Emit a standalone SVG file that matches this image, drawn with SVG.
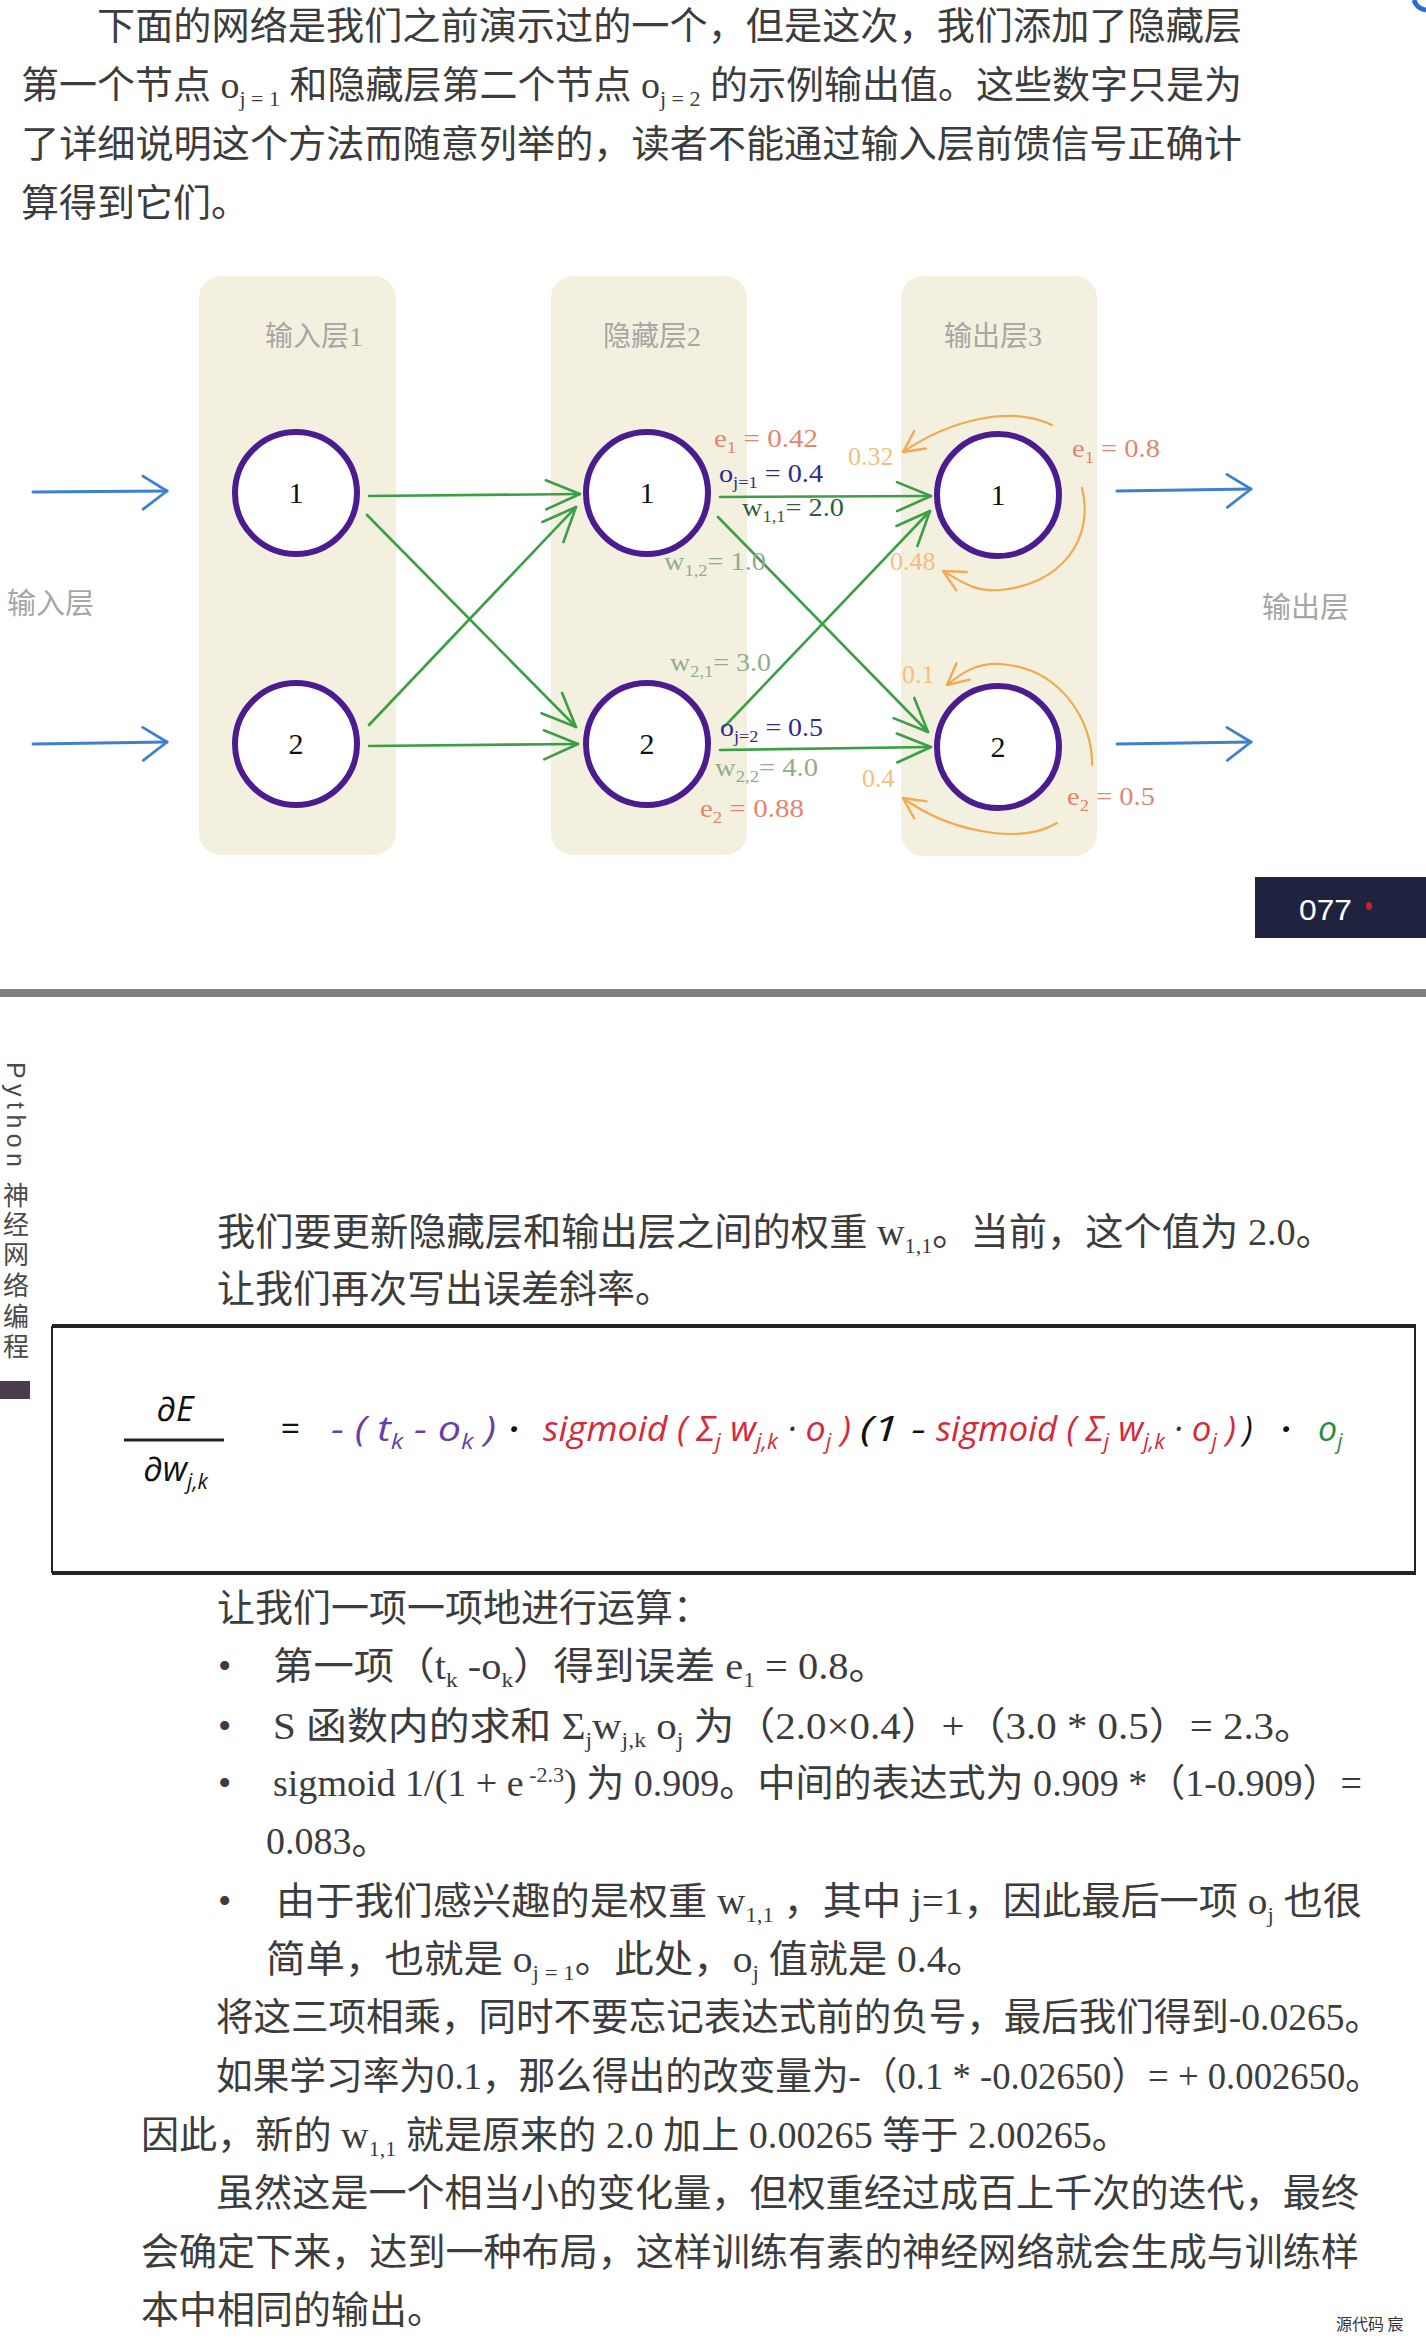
<svg xmlns="http://www.w3.org/2000/svg" width="1426" height="2341" viewBox="0 0 1426 2341">
<style>
.body{font-family:"Liberation Serif","Noto Sans CJK SC",serif;font-size:38px;fill:#3c3c3c}
.sub{font-size:22px}
.col{fill:#f3f0df}
.colt{font-family:"Liberation Serif","Noto Sans CJK SC",serif;font-size:28px;fill:#a6a6a6}
.node circle{fill:#ffffff;stroke:#4b1c8f;stroke-width:6}
.node text{font-family:"Liberation Serif",serif;font-size:30px;fill:#111;text-anchor:middle}
.lbl{font-family:"Liberation Serif",serif;font-size:26px}
.ls{font-size:17px}
.green{fill:none;stroke:#3a9f45;stroke-width:2.6;stroke-linecap:round}
.blue{fill:none;stroke:#3f7fd0;stroke-width:3;stroke-linecap:round}
.orange{fill:none;stroke:#f2aa50;stroke-width:2.2;stroke-linecap:round}
.fm{font-family:"Open Sans","DejaVu Sans",sans-serif;font-style:italic;font-size:34px}
.fs{font-size:21px}
</style>
<defs>
<marker id="ag" markerUnits="userSpaceOnUse" orient="auto" refX="0" refY="0" markerWidth="1" markerHeight="1" style="overflow:visible"><path d="M-34,-14 L0,0 L-34,15" fill="none" stroke="#3a9f45" stroke-width="2.6" stroke-linecap="round" stroke-linejoin="round"/></marker>
<marker id="ab" markerUnits="userSpaceOnUse" orient="auto" refX="0" refY="0" markerWidth="1" markerHeight="1" style="overflow:visible"><path d="M-24,-15 L0,0 L-24,18" fill="none" stroke="#3f7fd0" stroke-width="2.8" stroke-linecap="round" stroke-linejoin="round"/></marker>
<marker id="ao" markerUnits="userSpaceOnUse" orient="auto" refX="0" refY="0" markerWidth="1" markerHeight="1" style="overflow:visible"><path d="M-21,-10 L0,0 L-21,11" fill="none" stroke="#f2aa50" stroke-width="2.4" stroke-linecap="round" stroke-linejoin="round"/></marker>
</defs>
<rect x="0" y="0" width="1426" height="2341" fill="#ffffff"/>
<path d="M1426,10 A14,14 0 0 1 1414,0" fill="none" stroke="#2a6ad8" stroke-width="5"/>

<!-- top paragraph -->
<g id="top-text">
<text class="body" x="97" y="39" textLength="1145" lengthAdjust="spacingAndGlyphs">下面的网络是我们之前演示过的一个，但是这次，我们添加了隐藏层</text>
<text class="body" x="21" y="98" textLength="1221" lengthAdjust="spacingAndGlyphs">第一个节点 o<tspan class="sub" dy="8">j = 1</tspan><tspan dy="-8"> 和隐藏层第二个节点 o</tspan><tspan class="sub" dy="8">j = 2</tspan><tspan dy="-8"> 的示例输出值。这些数字只是为</tspan></text>
<text class="body" x="21" y="157" textLength="1221" lengthAdjust="spacingAndGlyphs">了详细说明这个方法而随意列举的，读者不能通过输入层前馈信号正确计</text>
<text class="body" x="21" y="216">算得到它们。</text>
</g>

<!-- columns -->
<g id="layer-input">
<rect class="col" x="199" y="276" width="197" height="579" rx="22"/>
<text class="colt" x="314" y="346" text-anchor="middle">输入层1</text>
</g>
<g id="layer-hidden">
<rect class="col" x="551" y="276" width="196" height="579" rx="22"/>
<text class="colt" x="652" y="346" text-anchor="middle">隐藏层2</text>
</g>
<g id="layer-output">
<rect class="col" x="901" y="276" width="196" height="580" rx="22"/>
<text class="colt" x="993" y="346" text-anchor="middle">输出层3</text>
</g>
<text id="label-input" class="colt" x="7" y="614" style="font-size:29px">输入层</text>
<text id="label-output" class="colt" x="1262" y="618" style="font-size:29px">输出层</text>

<!-- connectors -->
<g id="connectors">
<path class="blue" d="M33,492 L167,491" marker-end="url(#ab)"/>
<path class="blue" d="M33,744 L167,742" marker-end="url(#ab)"/>
<path class="blue" d="M1117,491 L1251,489" marker-end="url(#ab)"/>
<path class="blue" d="M1117,744 L1251,742" marker-end="url(#ab)"/>
<path class="green" d="M369,496 L580,494" marker-end="url(#ag)"/>
<path class="green" d="M367,515 L576,727" marker-end="url(#ag)"/>
<path class="green" d="M369,725 L576,507" marker-end="url(#ag)"/>
<path class="green" d="M369,746 L578,744" marker-end="url(#ag)"/>
<path class="green" d="M720,497 L931,496" marker-end="url(#ag)"/>
<path class="green" d="M718,517 L928,732" marker-end="url(#ag)"/>
<path class="green" d="M725,726 L930,511" marker-end="url(#ag)"/>
<path class="green" d="M720,750 L931,747" marker-end="url(#ag)"/>
<path class="orange" d="M1052,425 C1010,405 950,420 903,452" marker-end="url(#ao)"/>
<path class="orange" d="M1082,488 C1095,540 1060,585 1000,590 C975,592 962,582 943,571" marker-end="url(#ao)"/>
<path class="orange" d="M1092,765 C1093,720 1060,668 1000,664 C975,663 962,673 947,685" marker-end="url(#ao)"/>
<path class="orange" d="M1057,823 C1020,845 950,832 903,798" marker-end="url(#ao)"/>
</g>

<!-- nodes -->
<g id="node-in1" class="node"><circle cx="296" cy="493" r="61"/><text x="296" y="503">1</text></g>
<g id="node-in2" class="node"><circle cx="296" cy="744" r="61"/><text x="296" y="754">2</text></g>
<g id="node-h1" class="node"><circle cx="647" cy="493" r="61"/><text x="647" y="503">1</text></g>
<g id="node-h2" class="node"><circle cx="647" cy="744" r="61"/><text x="647" y="754">2</text></g>
<g id="node-o1" class="node"><circle cx="998" cy="495" r="61"/><text x="998" y="505">1</text></g>
<g id="node-o2" class="node"><circle cx="998" cy="747" r="61"/><text x="998" y="757">2</text></g>

<!-- diagram labels -->
<g id="labels">
<text class="lbl" x="714" y="447" fill="#e2866e" textLength="104" lengthAdjust="spacingAndGlyphs">e<tspan class="ls" dy="6">1</tspan><tspan dy="-6"> = 0.42</tspan></text>
<text class="lbl" x="719" y="482" fill="#2f2a8e" textLength="104" lengthAdjust="spacingAndGlyphs">o<tspan class="ls" dy="6">j=1</tspan><tspan dy="-6"> = 0.4</tspan></text>
<text class="lbl" x="742" y="516" fill="#2f5e36" textLength="102" lengthAdjust="spacingAndGlyphs">w<tspan class="ls" dy="6">1,1</tspan><tspan dy="-6">= 2.0</tspan></text>
<text class="lbl" x="664" y="570" fill="#8fae8c" textLength="102" lengthAdjust="spacingAndGlyphs">w<tspan class="ls" dy="6">1,2</tspan><tspan dy="-6">= 1.0</tspan></text>
<text class="lbl" x="670" y="671" fill="#8fae8c" textLength="101" lengthAdjust="spacingAndGlyphs">w<tspan class="ls" dy="6">2,1</tspan><tspan dy="-6">= 3.0</tspan></text>
<text class="lbl" x="720" y="736" fill="#2f2a8e" textLength="103" lengthAdjust="spacingAndGlyphs">o<tspan class="ls" dy="6">j=2</tspan><tspan dy="-6"> = 0.5</tspan></text>
<text class="lbl" x="715" y="776" fill="#8fae8c" textLength="103" lengthAdjust="spacingAndGlyphs">w<tspan class="ls" dy="6">2,2</tspan><tspan dy="-6">= 4.0</tspan></text>
<text class="lbl" x="700" y="817" fill="#e2866e" textLength="104" lengthAdjust="spacingAndGlyphs">e<tspan class="ls" dy="6">2</tspan><tspan dy="-6"> = 0.88</tspan></text>
<text class="lbl" x="848" y="465" fill="#f5be80">0.32</text>
<text class="lbl" x="890" y="570" fill="#f5be80">0.48</text>
<text class="lbl" x="902" y="683" fill="#f5be80">0.1</text>
<text class="lbl" x="862" y="787" fill="#f5be80">0.4</text>
<text class="lbl" x="1072" y="457" fill="#e2866e" textLength="88" lengthAdjust="spacingAndGlyphs">e<tspan class="ls" dy="6">1</tspan><tspan dy="-6"> = 0.8</tspan></text>
<text class="lbl" x="1067" y="805" fill="#e2866e" textLength="88" lengthAdjust="spacingAndGlyphs">e<tspan class="ls" dy="6">2</tspan><tspan dy="-6"> = 0.5</tspan></text>
</g>

<!-- page number -->
<g id="page-number">
<rect x="1255" y="877" width="171" height="61" fill="#1f2340"/>
<text x="1299" y="920" font-family="Liberation Sans, sans-serif" font-size="30" fill="#ffffff" textLength="53" lengthAdjust="spacingAndGlyphs">077</text>
<ellipse cx="1369" cy="906" rx="3" ry="4" fill="#c8242c"/>
</g>
<rect x="0" y="989" width="1426" height="8" fill="#808080"/>

<!-- side spine -->
<g id="spine" font-family="Liberation Sans, 'Noto Sans CJK SC', sans-serif" fill="#4a4a4a">
<text x="0" y="0" transform="translate(7,1062) rotate(90)" font-size="25" textLength="105" lengthAdjust="spacing">Python</text>
<g font-size="26" text-anchor="middle">
<text x="16" y="1205">神</text>
<text x="16" y="1234">经</text>
<text x="16" y="1264">网</text>
<text x="16" y="1295">络</text>
<text x="16" y="1326">编</text>
<text x="16" y="1356">程</text>
</g>
<rect x="0" y="1381" width="30" height="18" fill="#4a3c4e"/>
</g>

<!-- lower paragraph -->
<g id="text-intro">
<text class="body" x="217" y="1245" textLength="1117" lengthAdjust="spacingAndGlyphs">我们要更新隐藏层和输出层之间的权重 w<tspan class="sub" dy="8">1,1</tspan><tspan dy="-8">。当前，这个值为 2.0。</tspan></text>
<text class="body" x="217" y="1302">让我们再次写出误差斜率。</text>
</g>

<!-- formula box -->
<g id="formula">
<path d="M52,1326 L1416,1326 M52,1573 L1416,1573" stroke="#222" stroke-width="4" fill="none"/>
<path d="M52,1326 L52,1573 M1415,1326 L1415,1573" stroke="#222" stroke-width="2" fill="none"/>
<text class="fm" x="175" y="1421" text-anchor="middle" fill="#111">∂E</text>
<line x1="124" y1="1440" x2="224" y2="1440" stroke="#222" stroke-width="3"/>
<text class="fm" x="143" y="1481" fill="#111">∂w<tspan class="fs" dy="8">j,k</tspan></text>
<text class="fm" x="280" y="1441" fill="#111">=</text>
<text class="fm" x="331" y="1441" fill="#6b3fa8" textLength="165" lengthAdjust="spacingAndGlyphs">- ( t<tspan class="fs" dy="8">k</tspan><tspan dy="-8"> - o</tspan><tspan class="fs" dy="8">k</tspan><tspan dy="-8"> )</tspan></text>
<text class="fm" x="509" y="1441" fill="#111" font-weight="bold">·</text>
<text class="fm" x="543" y="1441" fill="#d42a3a" textLength="308" lengthAdjust="spacingAndGlyphs">sigmoid ( Σ<tspan class="fs" dy="8">j</tspan><tspan dy="-8"> w</tspan><tspan class="fs" dy="8">j,k</tspan><tspan dy="-8" fill="#333"> · </tspan><tspan>o</tspan><tspan class="fs" dy="8">j</tspan><tspan dy="-8"> )</tspan></text>
<text class="fm" x="860" y="1441" fill="#111" textLength="66" lengthAdjust="spacingAndGlyphs">(1 -</text>
<text class="fm" x="936" y="1441" fill="#d42a3a" textLength="300" lengthAdjust="spacingAndGlyphs">sigmoid ( Σ<tspan class="fs" dy="8">j</tspan><tspan dy="-8"> w</tspan><tspan class="fs" dy="8">j,k</tspan><tspan dy="-8" fill="#333"> · </tspan><tspan>o</tspan><tspan class="fs" dy="8">j</tspan><tspan dy="-8"> )</tspan></text>
<text class="fm" x="1243" y="1441" fill="#111">)</text>
<text class="fm" x="1281" y="1441" fill="#111" font-weight="bold">·</text>
<text class="fm" x="1318" y="1441" fill="#2e8b3e">o<tspan class="fs" dy="8">j</tspan></text>
</g>

<!-- steps -->
<g id="steps">
<text class="body" x="217" y="1621">让我们一项一项地进行运算：</text>
<g class="body"><text x="218" y="1679">•</text><text x="218" y="1739">•</text><text x="218" y="1796">•</text><text x="218" y="1914">•</text></g>
<text class="body" x="273" y="1679" textLength="616" lengthAdjust="spacingAndGlyphs">第一项（t<tspan class="sub" dy="8">k</tspan><tspan dy="-8"> -o</tspan><tspan class="sub" dy="8">k</tspan><tspan dy="-8">）得到误差 e</tspan><tspan class="sub" dy="8">1</tspan><tspan dy="-8"> = 0.8。</tspan></text>
<text class="body" x="273" y="1739" textLength="1042" lengthAdjust="spacingAndGlyphs">S 函数内的求和 Σ<tspan class="sub" dy="8">j</tspan><tspan dy="-8">w</tspan><tspan class="sub" dy="8">j,k</tspan><tspan dy="-8"> o</tspan><tspan class="sub" dy="8">j</tspan><tspan dy="-8"> 为（2.0×0.4）+（3.0 * 0.5）= 2.3。</tspan></text>
<text class="body" x="273" y="1796" textLength="1089" lengthAdjust="spacingAndGlyphs">sigmoid 1/(1 + e<tspan class="sub" dy="-14"> -2.3</tspan><tspan dy="14">) 为 0.909。中间的表达式为 0.909 *（1-0.909）=</tspan></text>
<text class="body" x="266" y="1854">0.083。</text>
<text class="body" x="276" y="1914" textLength="1086" lengthAdjust="spacingAndGlyphs">由于我们感兴趣的是权重 w<tspan class="sub" dy="8">1,1</tspan><tspan dy="-8"> ，其中 j=1，因此最后一项 o</tspan><tspan class="sub" dy="8">j</tspan><tspan dy="-8"> 也很</tspan></text>
<text class="body" x="266" y="1972" textLength="720" lengthAdjust="spacingAndGlyphs">简单，也就是 o<tspan class="sub" dy="8">j = 1</tspan><tspan dy="-8">。此处，o</tspan><tspan class="sub" dy="8">j</tspan><tspan dy="-8"> 值就是 0.4。</tspan></text>
</g>

<!-- conclusion -->
<g id="conclusion">
<text class="body" x="216" y="2030" textLength="1166" lengthAdjust="spacingAndGlyphs">将这三项相乘，同时不要忘记表达式前的负号，最后我们得到-0.0265。</text>
<text class="body" x="216" y="2089" textLength="1166" lengthAdjust="spacingAndGlyphs">如果学习率为0.1，那么得出的改变量为-（0.1 * -0.02650）= + 0.002650。</text>
<text class="body" x="141" y="2148" textLength="989" lengthAdjust="spacingAndGlyphs">因此，新的 w<tspan class="sub" dy="8">1,1</tspan><tspan dy="-8"> 就是原来的 2.0 加上 0.00265 等于 2.00265。</tspan></text>
<text class="body" x="216" y="2206" textLength="1143" lengthAdjust="spacingAndGlyphs">虽然这是一个相当小的变化量，但权重经过成百上千次的迭代，最终</text>
<text class="body" x="141" y="2265" textLength="1218" lengthAdjust="spacingAndGlyphs">会确定下来，达到一种布局，这样训练有素的神经网络就会生成与训练样</text>
<text class="body" x="141" y="2323">本中相同的输出。</text>
</g>
<text id="watermark" x="1336" y="2330" font-family="'Noto Sans CJK SC', sans-serif" font-size="16" fill="#333">源代码 宸</text>
</svg>
